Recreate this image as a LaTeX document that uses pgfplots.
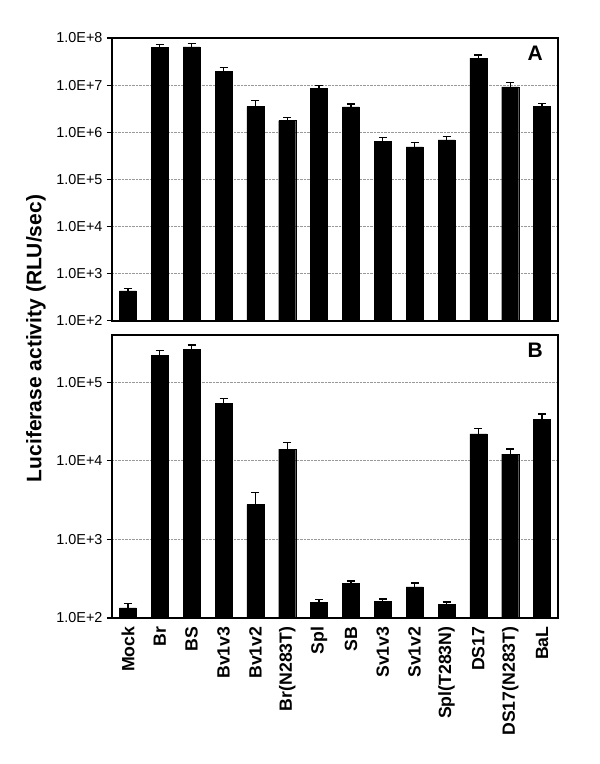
\documentclass[border=0pt]{standalone}
\usepackage{pgfplots}
\pgfplotsset{compat=1.18}
\usepackage{pgfplotstable}
\usepackage{fontspec}
\setmainfont{Liberation Sans}

\pgfplotstableread{
x y e
0 427 51
1 6.4e7 1.0e7
2 6.5e7 1.2e7
3 1.98e7 3.5e6
4 3.5e6 1.2e6
5 1.77e6 2.5e5
6 8.6e6 1.2e6
7 3.47e6 5.3e5
8 6.46e5 1.14e5
9 4.9e5 1.1e5
10 6.9e5 1.2e5
11 3.75e7 5.9e6
12 9.2e6 2.2e6
13 3.52e6 5.5e5
}\dataA

\pgfplotstableread{
x y e
0 135 17
1 2.2e5 3.5e4
2 2.65e5 3.3e4
3 5.4e4 7.6e3
4 2.77e3 1.17e3
5 1.41e4 3.0e3
6 158 15
7 274 23
8 162 13
9 249 31
10 148 12
11 2.21e4 3.8e3
12 1.22e4 1.9e3
13 3.37e4 5.7e3
}\dataB

\begin{document}
\begin{tikzpicture}
\useasboundingbox (0,0) rectangle (600pt,764pt);

\begin{axis}[
  scale only axis,
  width=446pt, height=282.7pt,
  at={(112pt,443.3pt)}, anchor=south west,
  ybar, bar width=17pt,
  ymode=log, log origin=infty,
  xmin=-0.5, xmax=13.5,
  ymin=1e2, ymax=1e8,
  xtick={0,...,13}, xticklabels={},
  xtick style={draw=none},
  ytick={1e2,1e3,1e4,1e5,1e6,1e7,1e8},
  yticklabels={1.0E+2,1.0E+3,1.0E+4,1.0E+5,1.0E+6,1.0E+7,1.0E+8},
  ytick pos=left, tick align=outside, major tick length=5pt,
  ytick style={black, line width=1.2pt},
  yminorticks=false,
  axis line style={black, line width=1.8pt},
  ymajorgrids,
  grid style={densely dotted, gray!80, line width=0.8pt},
  yticklabel style={font=\fontsize{14.4}{16}\selectfont, xshift=-1pt},
]
\addplot[fill=black, draw=black,
  error bars/.cd, y dir=plus, y explicit,
  error bar style={black, line width=1.3pt},
  error mark options={rotate=90, black, line width=1.3pt, mark size=4pt}]
  table[x=x, y=y, y error=e] {\dataA};
\node[anchor=north east, inner sep=0pt, font=\bfseries\fontsize{21}{22}\selectfont] at ([xshift=-15pt,yshift=-8pt]rel axis cs:1,1) {A};
\end{axis}

\begin{axis}[
  scale only axis,
  width=446pt, height=283pt,
  at={(112pt,146pt)}, anchor=south west,
  ybar, bar width=17pt,
  ymode=log, log origin=infty,
  xmin=-0.5, xmax=13.5,
  ymin=1e2, ymax=4e5,
  xtick={0,...,13},
  xticklabels={Mock,Br,BS,Bv1v3,Bv1v2,Br(N283T),Spl,SB,Sv1v3,Sv1v2,Spl(T283N),DS17,DS17(N283T),BaL},
  xtick style={draw=none},
  ytick={1e2,1e3,1e4,1e5},
  yticklabels={1.0E+2,1.0E+3,1.0E+4,1.0E+5},
  ytick pos=left, tick align=outside, major tick length=5pt,
  ytick style={black, line width=1.2pt},
  yminorticks=false,
  axis line style={black, line width=1.8pt},
  ymajorgrids,
  grid style={densely dotted, gray!80, line width=0.8pt},
  yticklabel style={font=\fontsize{14.4}{16}\selectfont, xshift=-1pt},
  x tick label style={rotate=90, anchor=east, font=\bfseries\fontsize{17.7}{19}\selectfont},
]
\addplot[fill=black, draw=black,
  error bars/.cd, y dir=plus, y explicit,
  error bar style={black, line width=1.3pt},
  error mark options={rotate=90, black, line width=1.3pt, mark size=4pt}]
  table[x=x, y=y, y error=e] {\dataB};
\node[anchor=north east, inner sep=0pt, font=\bfseries\fontsize{21}{22}\selectfont] at ([xshift=-15pt,yshift=-8pt]rel axis cs:1,1) {B};
\end{axis}

\node[rotate=90, font=\bfseries\fontsize{21}{24}\selectfont] at (36pt,425.5pt) {Luciferase activity (RLU/sec)};
\end{tikzpicture}
\end{document}
